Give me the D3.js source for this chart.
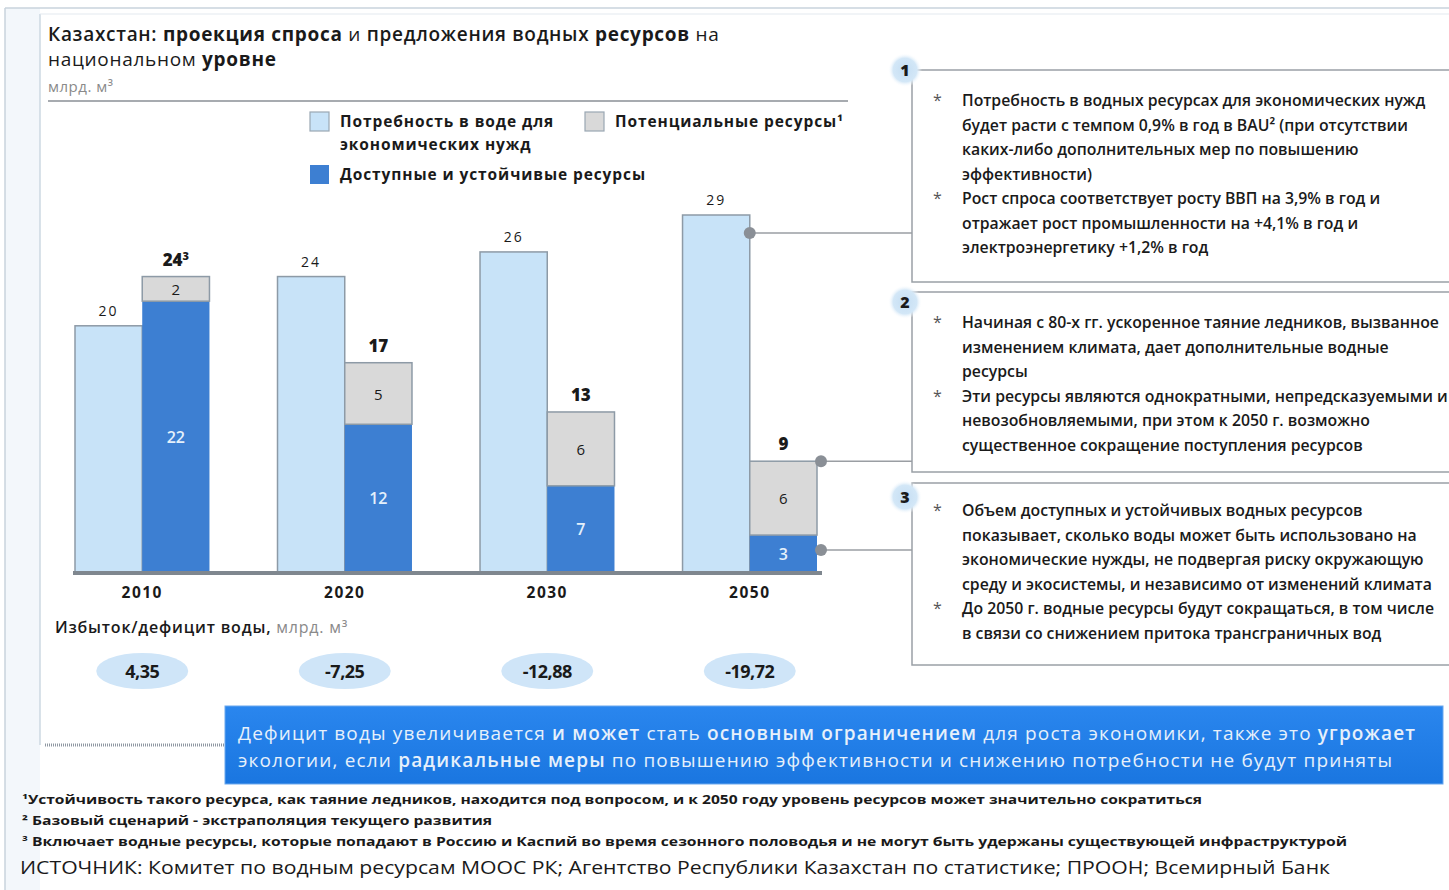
<!DOCTYPE html>
<html lang="ru">
<head>
<meta charset="utf-8">
<script src="https://cdn.jsdelivr.net/npm/d3@7"></script>
<style>
  html, body { margin: 0; padding: 0; background: #ffffff; }
  svg { display: block; font-family: "Open Sans", "Noto Sans", sans-serif; }
</style>
</head>
<body>
<svg id="chart" width="1449" height="890"></svg>
<script>
// Water demand vs. supply projection for Kazakhstan, bn m³
const years = ["2010", "2020", "2030", "2050"];
const demand = [20, 24, 26, 29];            // water demand for economic needs
const available = [22, 12, 7, 3];           // available and sustainable resources
const potential = [2, 5, 6, 6];             // potential resources
const totalNotes = ["3", "", "", ""];       // footnote marks on supply totals
const balance = ["4,35", "-7,25", "-12,88", "-19,72"]; // surplus / deficit

const legendItems = [
  { key: "demand", lines: ["Потребность в воде для", "экономических нужд"], col: 0, row: 0 },
  { key: "potential", lines: ["Потенциальные ресурсы¹"], col: 1, row: 0 },
  { key: "available", lines: ["Доступные и устойчивые ресурсы"], col: 0, row: 1 }
];

// commentary: each box holds bullets, each bullet holds its wrapped lines
const notes = [
  { n: "1", lines: [
    ["Потребность в водных ресурсах для экономических нужд", "будет расти с темпом 0,9% в год в BAU² (при отсутствии", "каких-либо дополнительных мер по повышению", "эффективности)"],
    ["Рост спроса соответствует росту ВВП на 3,9% в год и", "отражает рост промышленности на +4,1% в год и", "электроэнергетику +1,2% в год"]
  ]},
  { n: "2", lines: [
    ["Начиная с 80-х гг. ускоренное таяние ледников, вызванное", "изменением климата, дает дополнительные водные", "ресурсы"],
    ["Эти ресурсы являются однократными, непредсказуемыми и", "невозобновляемыми, при этом к 2050 г. возможно", "существенное сокращение поступления ресурсов"]
  ]},
  { n: "3", lines: [
    ["Объем доступных и устойчивых водных ресурсов", "показывает, сколько воды может быть использовано на", "экономические нужды, не подвергая риску окружающую", "среду и экосистемы, и независимо от изменений климата"],
    ["До 2050 г. водные ресурсы будут сокращаться, в том числе", "в связи со снижением притока трансграничных вод"]
  ]}
];

const footnotes = [
  "¹Устойчивость такого ресурса, как таяние ледников, находится под вопросом, и к 2050 году уровень ресурсов может значительно сократиться",
  "² Базовый сценарий - экстраполяция текущего развития",
  "³ Включает водные ресурсы, которые попадают в Россию и Каспий во время сезонного половодья и не могут быть удержаны существующей инфраструктурой"
];
const source = "ИСТОЧНИК: Комитет по водным ресурсам МООС РК; Агентство Республики Казахстан по статистике; ПРООН; Всемирный Банк";

const colors = {
  demand: "#c8e3f8",
  available: "#3d7fd2",
  potential: "#d9d9d9",
  stroke: "#8d9aa6",
  text: "#1a1a1a",
  muted: "#8a8a8a"
};

const svg = d3.select("#chart");

// ---------- page frame ----------
svg.append("rect").attr("x", 5).attr("y", 8).attr("width", 35).attr("height", 882).attr("fill", "#f3f7fb");
svg.append("line").attr("x1", 5).attr("x2", 1449).attr("y1", 8).attr("y2", 8).attr("stroke", "#c9d3dd").attr("stroke-width", 1.5);
svg.append("line").attr("x1", 5).attr("x2", 5).attr("y1", 8).attr("y2", 890).attr("stroke", "#c9d3dd").attr("stroke-width", 1.5);
svg.append("line").attr("x1", 40).attr("x2", 40).attr("y1", 14).attr("y2", 745).attr("stroke", "#cdd8e2").attr("stroke-width", 1.5);
svg.append("line").attr("x1", 40).attr("x2", 1449).attr("y1", 14).attr("y2", 14).attr("stroke", "#e3e9ef").attr("stroke-width", 1);
svg.append("line").attr("x1", 45).attr("x2", 228).attr("y1", 745).attr("y2", 745)
  .attr("stroke", "#8f98a2").attr("stroke-width", 3).attr("stroke-dasharray", "1,1");

// ---------- title ----------
const title = svg.append("text").attr("x", 48).attr("y", 41).attr("font-size", 19).attr("letter-spacing", 0.7).attr("fill", colors.text);
[["Казахстан: ", 600], ["проекция спроса ", 700], ["и ", 400], ["предложения водных ", 600], ["ресурсов ", 700], ["на", 400]]
  .forEach(([t, w]) => title.append("tspan").attr("font-weight", w).text(t));
const title2 = svg.append("text").attr("x", 48).attr("y", 66).attr("font-size", 19).attr("letter-spacing", 0.7).attr("fill", colors.text);
[["национальном ", 500], ["уровне", 700]].forEach(([t, w]) => title2.append("tspan").attr("font-weight", w).text(t));
svg.append("text").attr("x", 48).attr("y", 92).attr("font-size", 15).attr("letter-spacing", 0.5).attr("fill", colors.muted).text("млрд. м³");
svg.append("line").attr("x1", 48).attr("x2", 848).attr("y1", 101).attr("y2", 101).attr("stroke", "#8a8f96").attr("stroke-width", 1.5);

// ---------- legend ----------
const legend = svg.append("g").attr("font-size", 15.5).attr("font-weight", 700).attr("letter-spacing", 0.9).attr("fill", colors.text);
legendItems.forEach(item => {
  const gx = 310 + item.col * 275;
  const gy = 112 + item.row * 53;
  legend.append("rect").attr("x", gx).attr("y", gy).attr("width", 19).attr("height", 19)
    .attr("fill", colors[item.key]).attr("stroke", item.key === "available" ? "none" : "#9aa7b3").attr("stroke-width", 1.2);
  item.lines.forEach((l, i) => legend.append("text").attr("x", gx + 30).attr("y", gy + 15 + i * 23).text(l));
});

// ---------- scales ----------
const x = d3.scaleBand().domain(years).range([75, 817]).paddingInner(0.336).paddingOuter(0);
const xSub = d3.scaleBand().domain(["demand", "supply"]).range([0, x.bandwidth()]);
const y = d3.scaleLinear().domain([0, 29]).range([572, 215]);

const rows = years.map((yr, i) => ({ year: yr, demand: demand[i], available: available[i], potential: potential[i] }));
const stacked = d3.stack().keys(["available", "potential"])(rows);

const plot = svg.append("g");

// demand bars
plot.selectAll("rect.demand").data(rows).join("rect")
  .attr("class", "demand")
  .attr("x", d => x(d.year) + xSub("demand"))
  .attr("y", d => y(d.demand))
  .attr("width", xSub.bandwidth())
  .attr("height", d => y(0) - y(d.demand))
  .attr("fill", colors.demand).attr("stroke", colors.stroke).attr("stroke-width", 1.5);

// supply stacks
stacked.forEach(layer => {
  plot.selectAll(null).data(layer).join("rect")
    .attr("x", d => x(d.data.year) + xSub("supply"))
    .attr("y", d => y(d[1]))
    .attr("width", xSub.bandwidth())
    .attr("height", d => y(d[0]) - y(d[1]))
    .attr("fill", colors[layer.key])
    .attr("stroke", layer.key === "potential" ? colors.stroke : "none")
    .attr("stroke-width", 1.5);
  plot.selectAll(null).data(layer).join("text")
    .attr("x", d => x(d.data.year) + xSub("supply") + xSub.bandwidth() / 2)
    .attr("y", d => (y(d[0]) + y(d[1])) / 2 + 6)
    .attr("text-anchor", "middle")
    .attr("font-size", layer.key === "available" ? 16 : 15)
    .attr("font-weight", layer.key === "available" ? 600 : 400)
    .attr("fill", layer.key === "available" ? "#e4f0fb" : colors.text)
    .text(d => d.data[layer.key]);
});

// demand value labels
plot.selectAll("text.dval").data(rows).join("text")
  .attr("class", "dval")
  .attr("x", d => x(d.year) + xSub("demand") + xSub.bandwidth() / 2)
  .attr("y", d => y(d.demand) - 10)
  .attr("text-anchor", "middle").attr("font-size", 14).attr("letter-spacing", 2)
  .attr("fill", colors.text).text(d => d.demand);

// supply totals
const totals = plot.selectAll("text.tval").data(rows).join("text")
  .attr("class", "tval")
  .attr("x", d => x(d.year) + xSub("supply") + xSub.bandwidth() / 2)
  .attr("y", d => y(d.available + d.potential) - 11)
  .attr("text-anchor", "middle").attr("font-size", 17).attr("font-weight", 800)
  .attr("fill", colors.text);
totals.append("tspan").text(d => d.available + d.potential);
totals.append("tspan").attr("font-size", 11).attr("dy", -6).text((d, i) => totalNotes[i]);

// baseline
svg.append("line").attr("x1", x.range()[0] - 2).attr("x2", x.range()[1] + 5)
  .attr("y1", y(0) + 1).attr("y2", y(0) + 1).attr("stroke", "#7f878f").attr("stroke-width", 4);

// category axis
const xAxis = svg.append("g").attr("transform", `translate(0,${y(0) + 2})`)
  .call(d3.axisBottom(x).tickSize(0).tickPadding(13));
xAxis.select(".domain").remove();
xAxis.selectAll("text").attr("font-size", 15.5).attr("font-weight", 700).attr("fill", colors.text)
  .attr("font-family", "'Open Sans', sans-serif").attr("letter-spacing", 1.5);

// ---------- balance row ----------
const bal = svg.append("text").attr("x", 55).attr("y", 633).attr("font-size", 16).attr("letter-spacing", 0.8);
bal.append("tspan").attr("font-weight", 600).attr("fill", colors.text).text("Избыток/дефицит воды, ");
bal.append("tspan").attr("fill", colors.muted).text("млрд. м³");

const balG = svg.append("g");
years.forEach((yr, i) => {
  const cx = x(yr) + x.bandwidth() / 2;
  balG.append("ellipse").attr("cx", cx).attr("cy", 671).attr("rx", 46).attr("ry", 18).attr("fill", "#cfe5f8");
  balG.append("text").attr("x", cx).attr("y", 678).attr("text-anchor", "middle")
    .attr("font-size", 18).attr("font-weight", 700).attr("letter-spacing", -0.5).attr("fill", colors.text).text(balance[i]);
});

// ---------- callout boxes ----------
const boxes = [
  { top: 70, bottom: 282, circleY: 70, textY: 106 },
  { top: 292, bottom: 472, circleY: 302, textY: 328 },
  { top: 483, bottom: 665, circleY: 497, textY: 516 }
];
const defs = svg.append("defs");
const glow = defs.append("radialGradient").attr("id", "badge");
glow.append("stop").attr("offset", "0%").attr("stop-color", "#c5def3");
glow.append("stop").attr("offset", "70%").attr("stop-color", "#d3e7f7");
glow.append("stop").attr("offset", "100%").attr("stop-color", "#ffffff").attr("stop-opacity", 0);

// connectors from the 2050 bars to the boxes
const bar50x = x("2050");
const connectors = [
  { x: bar50x + xSub("demand") + xSub.bandwidth(), y: y(demand[3]) + 18 },
  { x: bar50x + xSub("supply") + xSub.bandwidth() + 4, y: y(available[3] + potential[3]) },
  { x: bar50x + xSub("supply") + xSub.bandwidth() + 4, y: y(available[3]) + 15 }
];

boxes.forEach((b, i) => {
  svg.append("rect").attr("x", 912).attr("y", b.top).attr("width", 600).attr("height", b.bottom - b.top)
    .attr("fill", "#ffffff").attr("stroke", "#9aa0a6").attr("stroke-width", 1.5);
  const c = connectors[i];
  svg.append("line").attr("x1", c.x).attr("x2", 912).attr("y1", c.y).attr("y2", c.y)
    .attr("stroke", "#9a9ea3").attr("stroke-width", 1.5);
  svg.append("circle").attr("cx", c.x).attr("cy", c.y).attr("r", 6).attr("fill", "#8a8f96");
  svg.append("circle").attr("cx", 905).attr("cy", b.circleY).attr("r", 17).attr("fill", "url(#badge)");
  svg.append("text").attr("x", 905).attr("y", b.circleY + 6).attr("text-anchor", "middle")
    .attr("font-size", 16).attr("font-weight", 800).attr("fill", colors.text).text(notes[i].n);

  let line = 0;
  notes[i].lines.forEach(bullet => {
    bullet.forEach((t, j) => {
      const ty = b.textY + line * 24.5;
      if (j === 0) svg.append("text").attr("x", 933).attr("y", ty).attr("font-size", 16).attr("fill", "#555").text("*");
      svg.append("text").attr("x", 962).attr("y", ty).attr("font-size", 15.8).attr("font-weight", 600)
        .attr("fill", colors.text).text(t);
      line++;
    });
  });
});

// ---------- conclusion banner ----------
const grad = defs.append("linearGradient").attr("id", "banner").attr("x1", 0).attr("x2", 0).attr("y1", 0).attr("y2", 1);
grad.append("stop").attr("offset", "0%").attr("stop-color", "#2a86ee");
grad.append("stop").attr("offset", "100%").attr("stop-color", "#1a76e0");
svg.append("rect").attr("x", 225).attr("y", 706).attr("width", 1218).attr("height", 78)
  .attr("fill", "url(#banner)").attr("stroke", "#6aa8ee").attr("stroke-width", 1);
const banner1 = svg.append("text").attr("x", 238).attr("y", 740).attr("font-size", 19).attr("fill", "#e6f0fb")
  .attr("textLength", 1177).attr("lengthAdjust", "spacing");
[["Дефицит воды увеличивается ", 400], ["и может ", 600], ["стать ", 400], ["основным ограничением ", 600], ["для роста экономики, ", 400], ["также это ", 400], ["угрожает", 600]]
  .forEach(([t, w]) => banner1.append("tspan").attr("font-weight", w).text(t));
const banner2 = svg.append("text").attr("x", 238).attr("y", 767).attr("font-size", 19).attr("fill", "#e6f0fb")
  .attr("textLength", 1154).attr("lengthAdjust", "spacing");
[["экологии, если ", 400], ["радикальные меры ", 600], ["по повышению эффективности и снижению потребности ", 400], ["не будут приняты", 400]]
  .forEach(([t, w]) => banner2.append("tspan").attr("font-weight", w).text(t));

// ---------- footnotes and source ----------
const footWidths = [1180, 470, 1325];
footnotes.forEach((t, i) => {
  svg.append("text").attr("x", 22).attr("y", 804 + i * 21).attr("font-size", 11.5).attr("font-weight", 700)
    .attr("fill", colors.text).attr("textLength", footWidths[i]).attr("lengthAdjust", "spacingAndGlyphs").text(t);
});
svg.append("text").attr("x", 20).attr("y", 874).attr("font-size", 18).attr("fill", colors.text)
  .attr("textLength", 1310).attr("lengthAdjust", "spacingAndGlyphs").text(source);
</script>
</body>
</html>
